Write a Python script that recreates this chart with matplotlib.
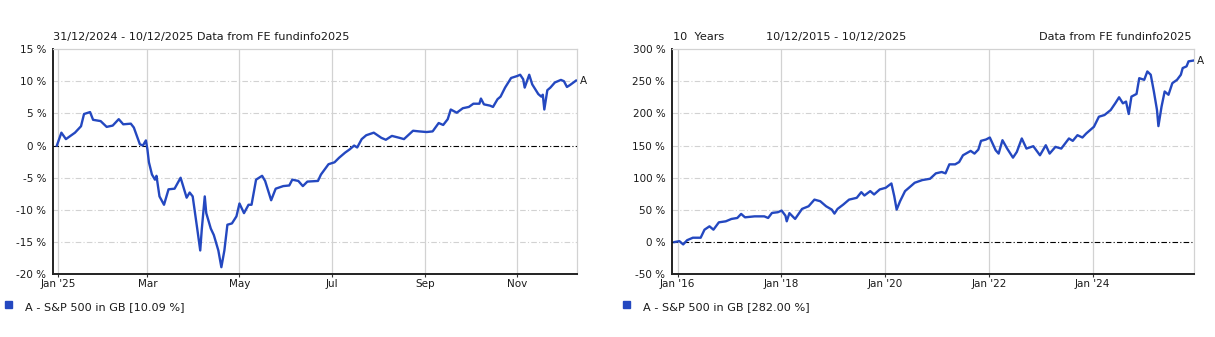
import matplotlib
matplotlib.use("Agg")
import matplotlib.pyplot as plt
import numpy as np

# 1 year chart: S&P 500 in GB, cumulative % growth
ytd_dates = ["2024-12-31", "2025-01-03", "2025-01-06", "2025-01-12", "2025-01-16", "2025-01-18",
             "2025-01-22", "2025-01-24", "2025-01-29", "2025-02-02", "2025-02-06", "2025-02-10",
             "2025-02-13", "2025-02-18", "2025-02-20", "2025-02-24", "2025-02-26", "2025-02-28",
             "2025-03-01", "2025-03-02", "2025-03-04", "2025-03-06", "2025-03-07", "2025-03-09",
             "2025-03-12", "2025-03-15", "2025-03-19", "2025-03-23", "2025-03-27", "2025-03-29",
             "2025-03-31", "2025-04-03", "2025-04-05", "2025-04-06", "2025-04-08", "2025-04-09",
             "2025-04-12", "2025-04-14", "2025-04-17", "2025-04-19", "2025-04-21", "2025-04-23",
             "2025-04-26", "2025-04-29", "2025-05-01", "2025-05-04", "2025-05-07", "2025-05-09",
             "2025-05-12", "2025-05-16", "2025-05-18", "2025-05-22", "2025-05-25", "2025-05-30",
             "2025-06-03", "2025-06-05", "2025-06-09", "2025-06-12", "2025-06-15", "2025-06-22",
             "2025-06-24", "2025-06-29", "2025-07-03", "2025-07-06", "2025-07-10", "2025-07-13",
             "2025-07-16", "2025-07-18", "2025-07-21", "2025-07-24", "2025-07-29", "2025-08-03",
             "2025-08-06", "2025-08-10", "2025-08-15", "2025-08-18", "2025-08-24", "2025-08-28",
             "2025-09-02", "2025-09-06", "2025-09-10", "2025-09-13", "2025-09-16", "2025-09-18",
             "2025-09-22", "2025-09-26", "2025-09-30", "2025-10-03", "2025-10-07", "2025-10-08",
             "2025-10-10", "2025-10-14", "2025-10-16", "2025-10-19", "2025-10-21", "2025-10-24",
             "2025-10-28", "2025-11-01", "2025-11-03", "2025-11-05", "2025-11-06", "2025-11-09",
             "2025-11-11", "2025-11-15", "2025-11-17", "2025-11-18", "2025-11-19", "2025-11-21",
             "2025-11-23", "2025-11-26", "2025-11-30", "2025-12-02", "2025-12-04", "2025-12-06",
             "2025-12-10"]
ytd_values = [0.0, 2.0, 1.0, 2.0, 3.0, 4.9,
              5.2, 4.0, 3.8, 2.9, 3.1, 4.1,
              3.3, 3.4, 2.8, 0.2, 0.0, 0.8,
              -0.6, -2.6, -4.5, -5.3, -4.7, -7.9,
              -9.2, -6.8, -6.7, -5.0, -8.1, -7.3,
              -7.9, -12.9, -16.3, -13.1, -7.9, -10.5,
              -12.9, -13.9, -16.3, -18.9, -16.3, -12.3,
              -12.1, -11.0, -9.0, -10.5, -9.2, -9.2,
              -5.3, -4.7, -5.5, -8.5, -6.7, -6.3,
              -6.2, -5.3, -5.5, -6.3, -5.6, -5.5,
              -4.5, -2.9, -2.6, -1.9, -1.1, -0.6,
              0.0, -0.3, 1.0, 1.6, 2.0, 1.2,
              0.9, 1.5, 1.2, 1.0, 2.3, 2.2,
              2.1, 2.2, 3.5, 3.2, 4.1, 5.6,
              5.1, 5.8, 6.0, 6.5, 6.5, 7.3,
              6.4, 6.2, 6.0, 7.2, 7.6, 9.0,
              10.5, 10.8, 11.0, 10.3, 9.0, 11.0,
              9.5, 8.0, 7.6, 7.9, 5.6, 8.6,
              9.0, 9.8, 10.2, 10.0, 9.1, 9.4,
              10.09]

# 10 year chart
ten_dates = ["2015-12-10", "2016-01-14", "2016-02-10", "2016-03-09", "2016-04-18", "2016-06-12",
             "2016-07-09", "2016-08-13", "2016-09-10", "2016-10-18", "2016-12-06", "2017-01-15",
             "2017-02-25", "2017-03-24", "2017-04-20", "2017-06-27", "2017-09-03", "2017-09-30",
             "2017-10-27", "2017-12-07", "2018-01-03", "2018-01-30", "2018-02-08", "2018-02-27",
             "2018-04-08", "2018-05-27", "2018-07-12", "2018-08-22", "2018-10-02", "2018-11-12",
             "2018-12-22", "2019-01-10", "2019-02-01", "2019-03-13", "2019-04-23", "2019-06-16",
             "2019-07-18", "2019-08-09", "2019-09-19", "2019-10-16", "2019-11-25", "2020-01-06",
             "2020-02-15", "2020-03-06", "2020-03-23", "2020-04-16", "2020-05-21", "2020-07-01",
             "2020-07-28", "2020-09-20", "2020-11-13", "2020-12-24", "2021-02-03", "2021-03-02",
             "2021-03-29", "2021-05-09", "2021-06-06", "2021-07-03", "2021-08-26", "2021-09-22",
             "2021-10-19", "2021-11-07", "2021-12-12", "2022-01-08", "2022-02-18", "2022-03-11",
             "2022-04-07", "2022-05-10", "2022-06-20", "2022-07-17", "2022-08-21", "2022-09-23",
             "2022-11-10", "2022-12-27", "2023-02-06", "2023-03-05", "2023-04-15", "2023-05-26",
             "2023-07-19", "2023-08-15", "2023-09-17", "2023-10-22", "2023-11-18", "2024-01-11",
             "2024-02-15", "2024-03-25", "2024-05-08", "2024-06-09", "2024-07-06", "2024-08-02",
             "2024-08-24", "2024-09-12", "2024-10-01", "2024-11-06", "2024-11-25", "2024-12-30",
             "2025-01-21", "2025-02-14", "2025-03-08", "2025-03-30", "2025-04-09", "2025-05-01",
             "2025-05-23", "2025-06-19", "2025-07-16", "2025-08-18", "2025-09-14", "2025-09-27",
             "2025-10-24", "2025-11-07", "2025-12-10"]
ten_values = [0.0, 1.5, -3.6, 3.0, 6.8, 6.8,
              19.3, 24.5, 19.3, 30.7, 32.3, 36.0,
              37.5, 43.8, 38.5, 40.0, 40.0, 37.5,
              45.3, 46.4, 49.0, 41.0, 32.3, 45.0,
              36.0, 51.6, 55.7, 66.0, 63.5, 55.7,
              50.5, 44.3, 51.6, 58.3, 66.0, 68.8,
              77.6, 72.4, 79.2, 74.0, 81.8, 84.4,
              91.1, 71.4, 50.5, 63.5, 79.2, 87.0,
              92.2, 96.4, 98.4, 106.8, 108.9, 106.8,
              120.8, 120.8, 124.4, 134.9, 141.7, 137.5,
              143.7, 157.3, 159.4, 162.5, 142.7, 137.5,
              158.3, 145.3, 131.2, 140.1, 161.0, 145.3,
              149.0, 134.9, 150.5, 137.5, 148.0, 145.3,
              161.0, 157.3, 166.1, 162.5, 168.8, 179.2,
              194.8, 197.4, 205.2, 215.6, 225.0, 215.6,
              218.3, 199.0, 226.0, 230.2, 254.7, 252.1,
              265.1, 260.0, 234.0, 205.2, 180.2, 210.4,
              234.0, 228.9, 246.9, 252.1, 260.0, 270.4,
              273.0, 280.8, 282.0]

ytd_ticks = ["2025-01-01", "2025-03-01", "2025-05-01", "2025-07-01", "2025-09-01", "2025-11-01"]
ytd_ticklabels = ["Jan '25", "Mar", "May", "Jul", "Sep", "Nov"]
ten_ticks = ["2016-01-01", "2018-01-01", "2020-01-01", "2022-01-01", "2024-01-01"]
ten_ticklabels = ["Jan '16", "Jan '18", "Jan '20", "Jan '22", "Jan '24"]
ytd_yticks = [-20, -15, -10, -5, 0, 5, 10, 15]
ten_yticks = [-50, 0, 50, 100, 150, 200, 250, 300]

legend_ytd = "A - S&P 500 in GB [10.09 %]"
legend_ten = "A - S&P 500 in GB [282.00 %]"

plt.rcParams["font.family"] = ["DejaVu Sans"]
plt.rcParams["font.size"] = 7.5

BLUE = "#2448c0"
GRID = "#d2d2d2"
TXT = "#1a1a1a"
HEAD = 8.1

fig = plt.figure(figsize=(12.15, 3.37), dpi=100)
ax1 = fig.add_axes([0.0439, 0.1861, 0.4308, 0.6685])
ax2 = fig.add_axes([0.5533, 0.1861, 0.4297, 0.6685])


def style(ax, dates, values, xticks, xlabels, yticks, xlim):
    d = [np.datetime64(s) for s in dates]
    ax.plot(d, values, color=BLUE, lw=1.7, zorder=5)
    ax.set_xlim(np.datetime64(xlim[0]), np.datetime64(xlim[1]))
    ax.set_ylim(yticks[0], yticks[-1])
    ax.set_yticks(yticks)
    ax.set_yticklabels([f"{v} %" for v in yticks], color=TXT)
    ax.set_xticks([np.datetime64(t) for t in xticks])
    ax.set_xticklabels(xlabels, color=TXT)
    ax.tick_params(axis="y", length=0, pad=5)
    ax.tick_params(axis="x", length=2.5, width=0.8, pad=1, color="#333333")
    for t in xticks:
        ax.axvline(np.datetime64(t), color=GRID, lw=0.9, zorder=1)
    for v in yticks[1:-1]:
        if v == 0:
            ax.axhline(0, color="black", lw=0.8, dashes=(5, 2, 1, 2), zorder=3)
        else:
            ax.axhline(v, color=GRID, lw=0.8, dashes=(5, 2, 1, 2), zorder=1)
    for s in ("top", "right"):
        ax.spines[s].set_color(GRID)
        ax.spines[s].set_linewidth(0.9)
    for s in ("left", "bottom"):
        ax.spines[s].set_color("#222222")
        ax.spines[s].set_linewidth(1.4)
    ax.annotate("A", xy=(d[-1], values[-1]), xytext=(3, 0), textcoords="offset points",
                va="center", ha="left", color=TXT, annotation_clip=False)


style(ax1, ytd_dates, ytd_values, ytd_ticks, ytd_ticklabels, ytd_yticks,
      ("2024-12-28T16", "2025-12-10T12"))
style(ax2, ten_dates, ten_values, ten_ticks, ten_ticklabels, ten_yticks,
      ("2015-11-25", "2025-12-18"))

# headers
fig.text(0.0439, 0.890, "31/12/2024 - 10/12/2025 Data from FE fundinfo2025", ha="left", va="center",
         color=TXT, fontsize=HEAD)
fig.text(0.5543, 0.890, "10  Years", ha="left", va="center", color=TXT, fontsize=HEAD)
fig.text(0.6303, 0.890, "10/12/2015 - 10/12/2025", ha="left", va="center", color=TXT, fontsize=HEAD)
fig.text(0.9807, 0.890, "Data from FE fundinfo2025", ha="right", va="center", color=TXT, fontsize=HEAD)

# legends
fig.patches.append(plt.Rectangle((0.0041, 0.0855), 0.0058, 0.0208, transform=fig.transFigure,
                                 color=BLUE, figure=fig))
fig.text(0.0206, 0.089, legend_ytd, ha="left", va="center", color=TXT, fontsize=HEAD)
fig.patches.append(plt.Rectangle((0.5128, 0.0855), 0.0058, 0.0208, transform=fig.transFigure,
                                 color=BLUE, figure=fig))
fig.text(0.5292, 0.089, legend_ten, ha="left", va="center", color=TXT, fontsize=HEAD)

fig.savefig("out.png", dpi=100, facecolor="white")
